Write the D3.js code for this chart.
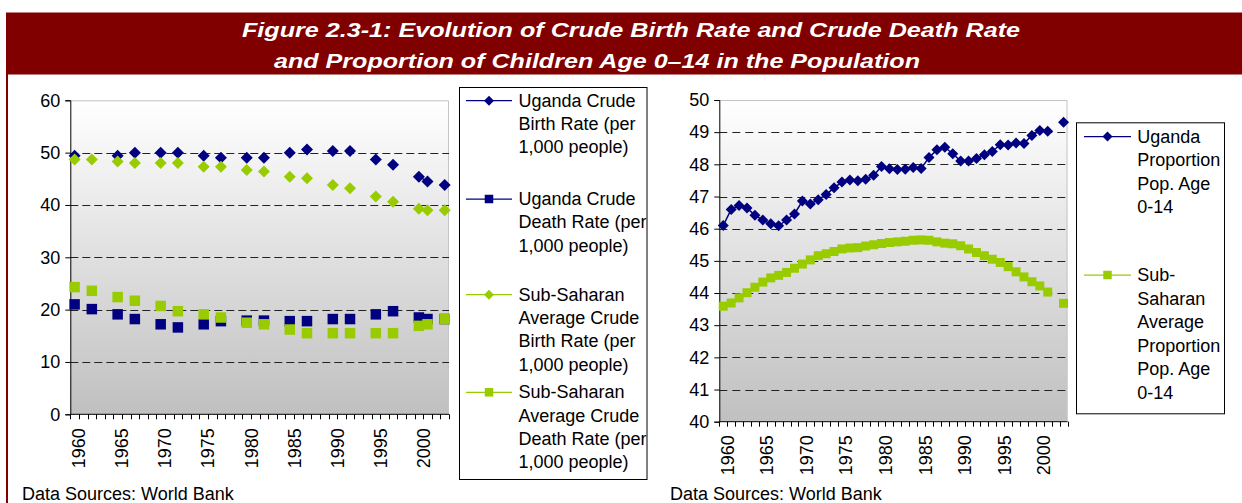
<!DOCTYPE html>
<html><head><meta charset="utf-8">
<script src="https://cdn.jsdelivr.net/npm/d3@7"></script>
<style>
body{margin:0;background:#fff;}
svg{display:block;font-family:"Liberation Sans",Arial,sans-serif;}
</style>
</head><body>
<svg id="c" width="1242" height="503"></svg>
<script>
// ---------- DATA ----------
const titleLines = ["Figure 2.3-1: Evolution of Crude Birth Rate and Crude Death Rate",
                    "and Proportion of Children Age 0\u201314 in the Population"];
const sourceText = "Data Sources: World Bank";

const categories = [1960,1961,1962,1963,1964,1965,1966,1967,1968,1969,
                    1970,1971,1972,1973,1974,1975,1976,1977,1978,1979,
                    1980,1981,1982,1983,1984,1985,1986,1987,1988,1989,
                    1990,1991,1992,1993,1994,1995,1996,1997,1998,1999,
                    2000,2001,2002,2003];
const tickLabels = [1960,1965,1970,1975,1980,1985,1990,1995,2000];

// left chart: observations only in some years
const leftYears = [1960,1962,1965,1967,1970,1972,1975,1977,1980,1982,1985,1987,1990,1992,1995,1997,2000,2001,2003];
const ugaBirth  = [49.4,null,49.4,50.0,50.0,50.0,49.4,49.0,49.0,49.0,50.0,50.6,50.3,50.3,48.7,47.7,45.4,44.5,43.8];
const ugaDeath  = [21.0,20.1,19.1,18.2,17.2,16.6,17.2,17.8,17.9,17.9,17.8,17.8,18.2,18.2,19.1,19.7,18.5,18.2,18.2];
const ssaBirth  = [48.7,48.7,48.3,48.0,48.0,48.0,47.3,47.3,46.7,46.4,45.4,45.1,43.8,43.2,41.6,40.6,39.3,39.0,39.0];
const ssaDeath  = [24.3,23.6,22.4,21.7,20.7,19.7,19.1,18.5,17.5,17.2,16.2,15.5,15.5,15.5,15.5,15.5,16.9,17.2,18.2];
const leftTicks = [0,10,20,30,40,50,60];

// right chart: every year 1960-2003 (2002 missing)
const ugaProp = [46.10,46.60,46.72,46.64,46.42,46.27,46.15,46.09,46.27,46.46,
                 46.86,46.77,46.90,47.06,47.27,47.45,47.51,47.49,47.54,47.66,
                 47.93,47.86,47.84,47.85,47.90,47.87,48.21,48.45,48.53,48.33,
                 48.10,48.10,48.18,48.30,48.40,48.61,48.60,48.66,48.65,48.90,
                 49.05,49.03,null,49.31];
const ssaProp = [43.59,43.69,43.85,44.01,44.18,44.34,44.47,44.55,44.64,44.77,
                 44.90,45.03,45.16,45.22,45.29,45.37,45.40,45.41,45.46,45.50,
                 45.54,45.57,45.59,45.61,45.64,45.65,45.64,45.59,45.55,45.53,
                 45.47,45.37,45.26,45.16,45.05,44.95,44.82,44.66,44.50,44.35,
                 44.22,44.03,null,43.68];
const rightTicks = [40,41,42,43,44,45,46,47,48,49,50];

const leftLegend = [
  ["Uganda Crude","Birth Rate (per","1,000 people)"],
  ["Uganda Crude","Death Rate (per","1,000 people)"],
  ["Sub-Saharan","Average Crude","Birth Rate (per","1,000 people)"],
  ["Sub-Saharan","Average Crude","Death Rate (per","1,000 people)"]
];
const rightLegend = [
  ["Uganda","Proportion","Pop. Age","0-14"],
  ["Sub-","Saharan","Average","Proportion","Pop. Age","0-14"]
];

// ---------- STYLE ----------
const NAVY = "#000080", GREEN = "#99cc00", DARKRED = "#800000";
const FONT = 18;

const svg = d3.select("#c");
const defs = svg.append("defs");
const grad = defs.append("linearGradient").attr("id","bg").attr("x1",0).attr("y1",0).attr("x2",0).attr("y2",1);
grad.append("stop").attr("offset","0%").attr("stop-color","#ffffff");
grad.append("stop").attr("offset","100%").attr("stop-color","#c0c0c0");

// title bar & frame
svg.append("rect").attr("x",6).attr("y",12.5).attr("width",1236).attr("height",62).attr("fill",DARKRED);
svg.append("rect").attr("x",6).attr("y",74).attr("width",2).attr("height",429).attr("fill",DARKRED);
const tx = [242, 274], ty = [36.5, 67.5], tl = [778, 646];
titleLines.forEach((t,i)=>{
  svg.append("text").attr("x",tx[i]).attr("y",ty[i]).attr("fill","#fff")
    .attr("font-size",21).attr("font-weight","bold").attr("font-style","italic")
    .attr("textLength",tl[i]).attr("lengthAdjust","spacingAndGlyphs").text(t);
});

function diamondPath(r){ return `M0,${-r}L${r},0L0,${r}L${-r},0Z`; }
function squarePath(s){ const h=s/2; return `M${-h},${-h}H${h}V${h}H${-h}Z`; }

function drawChart(cfg){
  const g = svg.append("g");
  const x = d3.scaleBand().domain(categories).range([cfg.x0,cfg.x1]).paddingInner(0).paddingOuter(0);
  const y = d3.scaleLinear().domain(cfg.ydom).range([cfg.yb,cfg.yt]);
  const cx = v => x(v) + x.bandwidth()/2;

  g.append("rect").attr("x",cfg.x0).attr("y",cfg.yt).attr("width",cfg.x1-cfg.x0).attr("height",cfg.yb-cfg.yt).attr("fill","url(#bg)");
  g.append("path").attr("d",`M${cfg.x0},${cfg.yt+0.5}H${cfg.x1-0.5}V${cfg.yb}`).attr("fill","none").attr("stroke","#c4c4c4").attr("stroke-width",1);
  g.selectAll(".grid").data(cfg.ticks.filter(t=>t!==cfg.ydom[0] && t!==cfg.ydom[1])).enter().append("line")
    .attr("x1",cfg.x0).attr("x2",cfg.x1).attr("y1",d=>Math.round(y(d))+0.5).attr("y2",d=>Math.round(y(d))+0.5)
    .attr("stroke","#222").attr("stroke-width",1).attr("stroke-dasharray",cfg.dash);

  const ya = g.append("g").attr("transform",`translate(${cfg.x0},0)`)
    .call(d3.axisLeft(y).tickValues(cfg.ticks).tickSize(5).tickPadding(5).tickFormat(d3.format("d")));
  ya.select(".domain").attr("stroke","#000");
  ya.selectAll("text").attr("font-size",FONT).attr("font-family","Liberation Sans, Arial, sans-serif").attr("fill","#000");
  const xa = g.append("g").attr("transform",`translate(0,${cfg.yb})`);
  xa.append("line").attr("x1",cfg.x0).attr("x2",cfg.x1).attr("stroke","#000");
  const bounds = categories.map(c=>x(c)).concat([cfg.x1]);
  xa.selectAll(".bt").data(bounds).enter().append("line")
    .attr("x1",d=>Math.round(d)+0.5).attr("x2",d=>Math.round(d)+0.5).attr("y1",0).attr("y2",5).attr("stroke","#000");
  const xl = g.append("g").attr("transform",`translate(${x.bandwidth()/2},${cfg.yb})`)
    .call(d3.axisBottom(x).tickValues(tickLabels).tickSize(0));
  xl.select(".domain").remove();
  xl.selectAll("text").attr("font-size",FONT).attr("font-family","Liberation Sans, Arial, sans-serif").attr("fill","#000")
    .attr("text-anchor","end").attr("x",0).attr("y",0).attr("dy","0.36em")
    .attr("transform",`translate(0,${cfg.labelOff}) rotate(-90)`);

  cfg.series.forEach(s=>{
    const pts = s.years.map((yr,i)=>({yr, v:s.values[i]}));
    const full = categories.map(c=>{ const p = pts.find(q=>q.yr===c); return {yr:c, v: p ? p.v : null}; });
    const line = d3.line().defined(d=>d.v!=null).x(d=>cx(d.yr)).y(d=>y(d.v));
    g.append("path").datum(full).attr("d",line).attr("fill","none").attr("stroke",s.color).attr("stroke-width",1.5);
    g.selectAll(null).data(pts.filter(d=>d.v!=null)).enter().append("path")
      .attr("d", s.shape==="diamond" ? diamondPath(cfg.dr) : squarePath(cfg.sq))
      .attr("transform",d=>`translate(${cx(d.yr)},${y(d.v)})`).attr("fill",s.color);
  });

  const L = cfg.legend;
  const clipId = "clip"+cfg.id;
  defs.append("clipPath").attr("id",clipId).append("rect").attr("x",L.x).attr("y",L.y).attr("width",L.w).attr("height",L.h);
  const lg = g.append("g");
  lg.append("rect").attr("x",L.x+0.5).attr("y",L.y+0.5).attr("width",L.w).attr("height",L.h)
    .attr("fill","#fff").attr("stroke","#000").attr("stroke-width",1);
  const lt = lg.append("g").attr("clip-path",`url(#${clipId})`);
  cfg.series.forEach((s,i)=>{
    const base = L.baselines[i], sy = base - 6;
    lt.append("line").attr("x1",L.lx1).attr("x2",L.lx2).attr("y1",sy).attr("y2",sy).attr("stroke",s.color).attr("stroke-width",1.25);
    lt.append("path").attr("d", s.shape==="diamond" ? diamondPath(L.dr) : squarePath(L.sq))
      .attr("transform",`translate(${(L.lx1+L.lx2)/2},${sy})`).attr("fill",s.color);
    const t = lt.append("text").attr("x",L.tx).attr("y",base).attr("font-size",FONT).attr("fill","#000");
    L.labels[i].forEach((ln,j)=>{
      t.append("tspan").attr("x",L.tx).attr("y",base + j*L.step).text(ln);
    });
  });
}

drawChart({
  id:"L", x0:70.3, x1:449, yt:100.3, yb:414.3, ydom:[0,60], ticks:leftTicks, dash:"8,4",
  labelOff:14, dr:6, sq:10.5,
  series:[
    {years:leftYears, values:ugaBirth, color:NAVY, shape:"diamond"},
    {years:leftYears, values:ugaDeath, color:NAVY, shape:"square"},
    {years:leftYears, values:ssaBirth, color:GREEN, shape:"diamond"},
    {years:leftYears, values:ssaDeath, color:GREEN, shape:"square"}
  ],
  legend:{x:459, y:87, w:187.5, h:392, lx1:466, lx2:512, tx:518.5, step:23.3, dr:5, sq:8.5,
          baselines:[106.7,205,300.7,398.3], labels:leftLegend}
});

drawChart({
  id:"R", x0:719.3, x1:1067.5, yt:100, yb:421.7, ydom:[40,50], ticks:rightTicks, dash:"8,5",
  labelOff:13.5, dr:5.5, sq:9,
  series:[
    {years:categories, values:ugaProp, color:NAVY, shape:"diamond"},
    {years:categories, values:ssaProp, color:GREEN, shape:"square"}
  ],
  legend:{x:1076, y:122.3, w:148, h:291, lx1:1084, lx2:1131, tx:1137.3, step:23.5, dr:5, sq:8.5,
          baselines:[142.5,281], labels:rightLegend}
});

[22, 670].forEach(xx=>{
  svg.append("text").attr("x",xx).attr("y",500).attr("font-size",FONT).attr("fill","#000").text(sourceText);
});
</script>
</body></html>
